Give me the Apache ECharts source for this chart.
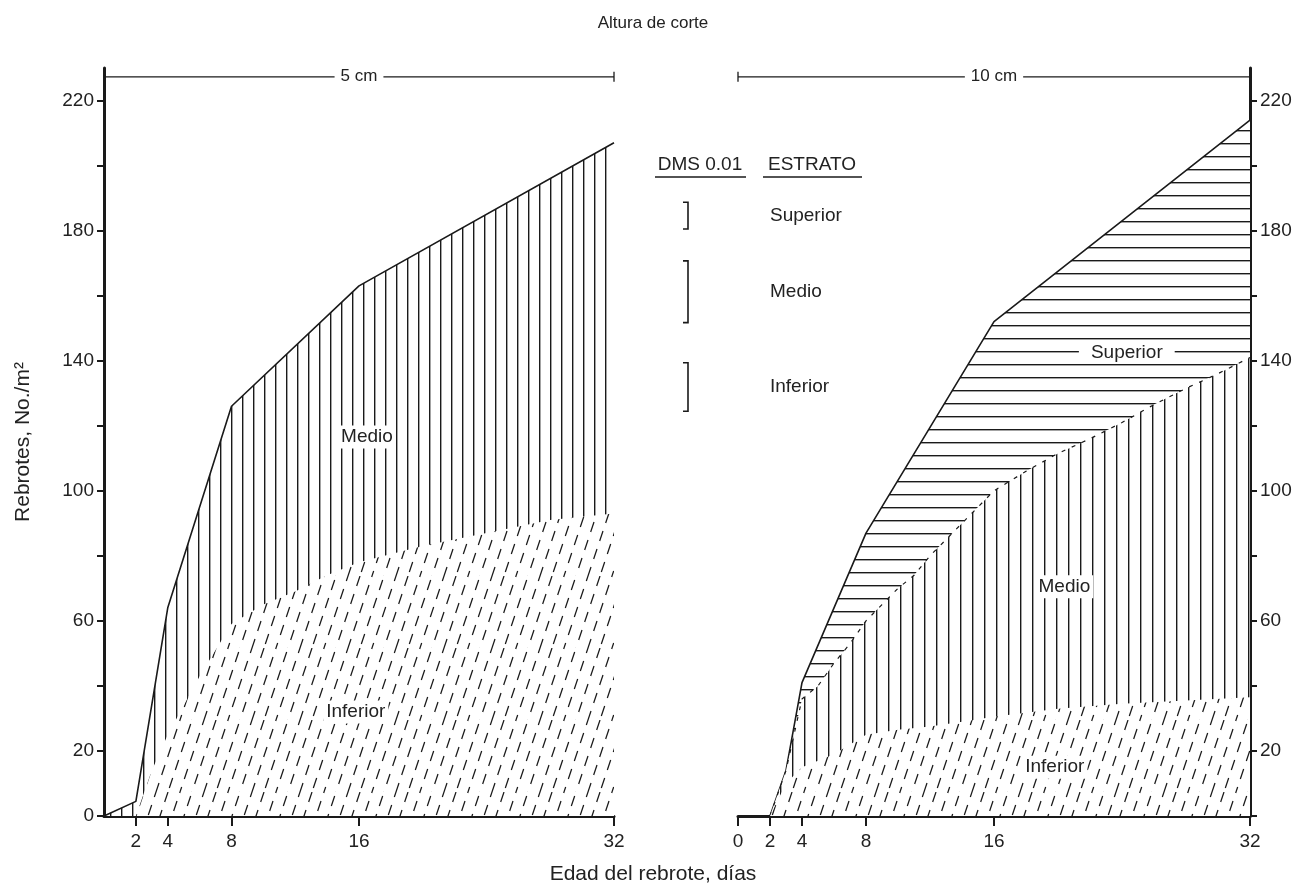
<!DOCTYPE html>
<html>
<head>
<meta charset="utf-8">
<script src="https://cdn.jsdelivr.net/npm/echarts@6/dist/echarts.min.js"></script>
<style>
html,body{margin:0;padding:0;background:#fff;}
#c{width:1306px;height:892px;}
</style>
</head>
<body>
<div id="c"></div>
<script>
// ---------------- DATA ----------------
// Altura de corte 5 cm (left panel)
const daysTotal5 = [0, 2, 4, 8, 16, 32];
const total5     = [0, 4.5, 64, 126, 163, 207];
const daysInf5   = [2, 3, 4, 6, 8, 10, 12, 14, 16, 20, 24, 28, 32];
const inferior5  = [0, 14, 25, 43, 59, 65, 69, 74, 78, 83, 87, 91, 93];

// Altura de corte 10 cm (right panel)
const daysTotal10 = [2, 3, 4, 8, 16, 32];
const total10     = [0, 14, 41, 87, 152, 214];
const daysMed10   = [2, 3, 4, 5, 6, 7, 8, 9, 10, 11, 12, 13, 14, 15, 16, 18, 20, 22, 24, 26, 28, 30, 32];
const medioTop10  = [0, 14, 36, 40, 47, 53, 60, 65, 70, 74, 80, 85, 90, 95, 100, 106, 111.5, 116, 121, 126.5, 131.5, 136, 141];
const daysInf10   = [2, 3, 4, 6, 8, 10, 12, 14, 16, 20, 24, 28, 32];
const inferior10  = [0, 10, 15, 19, 25, 26.5, 27.5, 29, 30.5, 33, 34.5, 35.5, 36.5];

// DMS 0.01 per estrato
const dmsLabels = ['Superior', 'Medio', 'Inferior'];
const dmsValues = [8.2, 19.0, 14.9];

// Tick labels
const yTickValues   = [0, 20, 40, 60, 80, 100, 120, 140, 160, 180, 200, 220];
const yLabelsLeft   = [0, 20, 60, 100, 140, 180, 220];
const yLabelsRight  = [20, 60, 100, 140, 180, 220];
const xTicksLeft    = [2, 4, 8, 16, 32];
const xTicksRight   = [0, 2, 4, 8, 16, 32];

// ---------------- STYLE / LAYOUT ----------------
const FONT = '"Liberation Sans", Arial, Helvetica, sans-serif';
const INK = '#1a1a1a';
const TXT = '#222';
const FS = 19;
const legendRowCenters = [184.6, 161.2, 131.9];

function mkCanvas(w, h) {
  const c = document.createElement('canvas');
  c.width = w; c.height = h;
  const g = c.getContext('2d');
  g.fillStyle = '#fff'; g.fillRect(0, 0, w, h);
  return [c, g];
}
function patVertical(sp, lw) {
  const [c, g] = mkCanvas(sp, 8);
  g.fillStyle = INK; g.fillRect(0, 0, lw, 8);
  return c;
}
function patHorizontal(sp, lw) {
  const [c, g] = mkCanvas(8, sp);
  g.fillStyle = INK; g.fillRect(0, 0, 8, lw);
  return c;
}
function patDashDiag() {
  // slanted dashed strokes (slope 3:1), staggered dash phases, seamless tile
  const W = 48, H = 72, P = 12, STEP = 18;
  const [c, g] = mkCanvas(W, H);
  g.strokeStyle = INK; g.lineWidth = 1.25; g.lineCap = 'butt';
  const phases = [0, 9, 4, 13];
  g.beginPath();
  for (let k = 0; k < 4; k++) {
    for (const wrap of [-W, 0, W]) {
      const ox = k * P + wrap;
      for (let s = -2 * STEP; s < H + STEP; s += STEP) {
        const ya = s + phases[k], yb = ya + 10;
        g.moveTo(ox + (H - ya) / 3, ya);
        g.lineTo(ox + (H - yb) / 3, yb);
      }
    }
  }
  g.stroke();
  return c;
}
const PV_L = { image: patVertical(11, 1.4), repeat: 'repeat' };
const PV_R = { image: patVertical(12, 1.4), repeat: 'repeat' };
const PH_R = { image: patHorizontal(13, 1.4), repeat: 'repeat' };
const PD   = { image: patDashDiag(), repeat: 'repeat' };

const pairs = (xs, ys) => xs.map((x, i) => [x, ys[i]]);

function xAxisCfg(grid, ticks) {
  return {
    type: 'value', gridIndex: grid, min: 0, max: 32, position: 'bottom',
    axisLine: { show: true, onZero: false, lineStyle: { color: INK, width: 3 } },
    axisTick: { show: true, customValues: ticks, length: 10, lineStyle: { color: INK, width: 2 } },
    axisLabel: { customValues: ticks, color: TXT, fontSize: FS, fontFamily: FONT, margin: 16 },
    splitLine: { show: false }
  };
}
function yAxisCfg(grid, pos, labels, name) {
  return {
    type: 'value', gridIndex: grid, min: 0, max: 230, position: pos,
    name: name || '', nameLocation: 'middle', nameGap: 70,
    nameTextStyle: { color: TXT, fontSize: 21, fontFamily: FONT },
    axisLine: { show: true, onZero: false, lineStyle: { color: INK, width: 3 } },
    axisTick: { show: true, customValues: yTickValues, length: 7, lineStyle: { color: INK, width: 2 } },
    axisLabel: { customValues: labels, color: TXT, fontSize: FS, fontFamily: FONT, margin: 10 },
    splitLine: { show: false }
  };
}

function areaSeries(name, xi, data, fill, lineW, z) {
  return {
    name, type: 'line', xAxisIndex: xi, yAxisIndex: xi, data,
    symbol: 'none', smooth: false, silent: true, z,
    lineStyle: { color: INK, width: lineW, opacity: lineW > 0 ? 1 : 0 },
    areaStyle: { color: fill, opacity: 1 }
  };
}

const option = {
  animation: false,
  backgroundColor: '#fff',
  textStyle: { fontFamily: FONT },
  title: [
    { text: 'Altura de corte', left: 'center', top: 10,
      textStyle: { color: TXT, fontSize: 17, fontWeight: 'normal', fontFamily: FONT } },
    { text: 'Edad del rebrote, días', left: 'center', top: 859,
      textStyle: { color: TXT, fontSize: 21, fontWeight: 'normal', fontFamily: FONT } }
  ],
  grid: [
    { left: 104, top: 68, width: 510, height: 748 },
    { left: 738, top: 68, width: 512, height: 748 },
    { left: 660, top: 68, width: 56, height: 748 }
  ],
  xAxis: [
    xAxisCfg(0, xTicksLeft),
    xAxisCfg(1, xTicksRight),
    { type: 'value', gridIndex: 2, min: 0, max: 1, show: false }
  ],
  yAxis: [
    yAxisCfg(0, 'left', yLabelsLeft, 'Rebrotes, No./m²'),
    yAxisCfg(1, 'right', yLabelsRight),
    { type: 'value', gridIndex: 2, min: 0, max: 230, show: false }
  ],
  series: [
    // left panel
    areaSeries('Total 5 cm', 0, pairs(daysTotal5, total5), PV_L, 1.6, 2),
    areaSeries('Inferior 5 cm', 0, pairs(daysInf5, inferior5), PD, 0, 3),
    // right panel
    areaSeries('Total 10 cm', 1, pairs(daysTotal10, total10), PH_R, 1.6, 2),
    Object.assign(areaSeries('Medio 10 cm', 1, pairs(daysMed10, medioTop10), PV_R, 1, 3),
      { lineStyle: { color: INK, width: 1.2, type: [4, 7] } }),
    areaSeries('Inferior 10 cm', 1, pairs(daysInf10, inferior10), PD, 0, 4),
    // DMS brackets
    {
      type: 'custom', xAxisIndex: 2, yAxisIndex: 2, silent: true, z: 5,
      data: dmsValues.map((v, i) => [i, v]),
      renderItem(params, api) {
        const i = api.value(0), v = api.value(1);
        const cy = legendRowCenters[i];
        const a = api.coord([0.5, cy + v / 2]), b = api.coord([0.5, cy - v / 2]);
        const x = a[0];
        return { type: 'group', children: [
          { type: 'polyline', shape: { points: [[x - 5, a[1]], [x, a[1]], [x, b[1]], [x - 5, b[1]]] },
            style: { stroke: INK, lineWidth: 1.6, fill: null } },
          { type: 'text', style: { text: dmsLabels[i], x: x + 82, y: (a[1] + b[1]) / 2,
            font: FS + 'px ' + FONT, fill: TXT, align: 'left', verticalAlign: 'middle' } }
        ] };
      }
    }
  ]
};

const chart = echarts.init(document.getElementById('c'));
chart.setOption(option);

// annotation layer (positions via the axes)
const P = (g, x, y) => chart.convertToPixel({ gridIndex: g }, [x, y]);
const font = FS + 'px ' + FONT;
function regionLabel(g, x, y, text, pad) {
  const p = P(g, x, y);
  return { type: 'text', z: 50, x: p[0], y: p[1],
    style: { text, font, fill: TXT, align: 'center', verticalAlign: 'middle',
      backgroundColor: '#fff', padding: pad || [2, 3] } };
}
function bracket(g, text, leftTick, rightTick) {
  const a = P(g, 0, 227.3), b = P(g, 32, 227.3);
  const els = [
    { type: 'line', z: 40, shape: { x1: a[0], y1: a[1], x2: b[0], y2: b[1] }, style: { stroke: INK, lineWidth: 1.3 } },
    { type: 'text', z: 41, x: (a[0] + b[0]) / 2, y: a[1],
      style: { text, font: '17px ' + FONT, fill: TXT, align: 'center', verticalAlign: 'middle',
        backgroundColor: '#fff', padding: [0, 6] } }
  ];
  if (leftTick) els.push({ type: 'line', z: 40, shape: { x1: a[0], y1: a[1] - 5, x2: a[0], y2: a[1] + 5 }, style: { stroke: INK, lineWidth: 1.3 } });
  if (rightTick) els.push({ type: 'line', z: 40, shape: { x1: b[0], y1: b[1] - 5, x2: b[0], y2: b[1] + 5 }, style: { stroke: INK, lineWidth: 1.3 } });
  return els;
}
const graphics = [].concat(
  bracket(0, '5 cm', false, true),
  bracket(1, '10 cm', true, false),
  [
    regionLabel(0, 16.5, 116.5, 'Medio'),
    regionLabel(0, 15.8, 32, 'Inferior'),
    regionLabel(1, 24.3, 142.5, 'Superior', [1, 12]),
    regionLabel(1, 20.4, 70.5, 'Medio'),
    regionLabel(1, 19.8, 15, 'Inferior'),
    { type: 'text', z: 50, x: 700, y: 165, style: { text: 'DMS 0.01', font, fill: TXT, align: 'center', verticalAlign: 'middle' } },
    { type: 'text', z: 50, x: 812, y: 165, style: { text: 'ESTRATO', font, fill: TXT, align: 'center', verticalAlign: 'middle' } },
    { type: 'line', z: 50, shape: { x1: 655, y1: 177, x2: 746, y2: 177 }, style: { stroke: INK, lineWidth: 1.3 } },
    { type: 'line', z: 50, shape: { x1: 763, y1: 177, x2: 862, y2: 177 }, style: { stroke: INK, lineWidth: 1.3 } }
  ]
);
chart.setOption({ graphic: graphics });
</script>
</body>
</html>
